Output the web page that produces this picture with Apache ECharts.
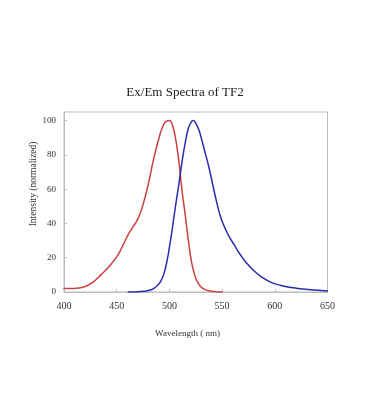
<!DOCTYPE html>
<html>
<head>
<meta charset="utf-8">
<script src="https://cdn.jsdelivr.net/npm/echarts@6/dist/echarts.min.js"></script>
<style>html,body{margin:0;padding:0;background:#fff;}#c{width:370px;height:420px;}</style>
</head>
<body>
<div id="c"></div>
<script>
const titleText = 'Ex/Em Spectra of TF2';
const xName = 'Wavelength ( nm)';
const yName = 'Intensity (normalized)';
const xTicks = [400, 450, 500, 550, 600, 650];
const yTicks = [0, 20, 40, 60, 80, 100];

const exWavelengths = [400, 410, 418, 425, 430, 435, 440, 445, 450, 455, 460, 465, 470, 475, 480, 485, 490, 494, 497, 500, 503, 506, 509, 512, 515, 518, 521, 524, 527, 532, 540, 550];
const exValues      = [2, 2.1, 2.8, 4.8, 7, 10, 13, 16.5, 20.5, 26, 32.5, 37.5, 42.5, 51, 63, 77.5, 89.5, 97, 99.5, 100, 97, 89, 76, 59, 45, 30, 17.5, 10, 5.5, 2, 0.5, 0];

const emWavelengths = [461, 470, 476, 481, 485, 489, 492, 495, 498, 500, 503, 506, 509, 512, 515, 518, 520.5, 522.5, 525, 528, 531, 534, 537, 541, 545, 549, 553, 557, 562, 567, 573, 580, 588, 597, 606, 616, 627, 638, 650];
const emValues      = [0, 0.1, 0.4, 1, 2, 4, 6.5, 11, 19, 26, 38, 51, 63, 76, 87, 95.5, 99, 100, 98.5, 94.5, 88, 81, 74, 63, 52, 43, 37, 32, 27, 22, 17, 12.5, 8.5, 5.5, 3.8, 2.6, 1.7, 1.1, 0.6];

const zip = (xs, ys) => xs.map((x, i) => [x, ys[i]]);
const serif = '"Liberation Serif", "DejaVu Serif", serif';
const gray = '#bdbdbd';

const chart = echarts.init(document.getElementById('c'), null, {renderer: 'canvas'});
chart.setOption({
  animation: false,
  backgroundColor: '#fff',
  grid: {left: 64, right: 42.5, top: 112, bottom: 128, show: true, borderColor: gray, borderWidth: 1, containLabel: false},
  xAxis: {
    type: 'value', min: 400, max: 650, interval: 50,
    axisLine: {lineStyle: {color: gray}},
    axisTick: {inside: true, length: 3, lineStyle: {color: gray}, customValues: xTicks},
    axisLabel: {color: '#333', fontFamily: serif, fontSize: 10, margin: 9, customValues: xTicks},
    splitLine: {show: false}
  },
  yAxis: {
    type: 'value', min: 0, max: 105,
    axisLine: {show: true, lineStyle: {color: gray}},
    axisTick: {show: true, inside: true, length: 3, lineStyle: {color: gray}, customValues: yTicks},
    axisLabel: {color: '#333', fontFamily: serif, fontSize: 9, margin: 8, customValues: yTicks},
    splitLine: {show: false}
  },
  graphic: [
    {type: 'text', x: 185, y: 93, style: {text: titleText, font: '13px ' + serif, fill: '#222', align: 'center', verticalAlign: 'middle'}},
    {type: 'text', x: 187.5, y: 334, style: {text: xName, font: '9px ' + serif, fill: '#333', align: 'center', verticalAlign: 'middle'}},
    {type: 'text', x: 33, y: 184, rotation: Math.PI / 2, style: {text: yName, font: '9.5px ' + serif, fill: '#333', align: 'center', verticalAlign: 'middle'}}
  ],
  series: [
    {name: 'Ex', type: 'line', data: zip(exWavelengths, exValues), showSymbol: false, smooth: 0.5, lineStyle: {color: '#cc4040', width: 1.5, cap: 'round', join: 'round'}, itemStyle: {color: '#cc4040'}},
    {name: 'Em', type: 'line', data: zip(emWavelengths, emValues), showSymbol: false, smooth: 0.5, lineStyle: {color: '#2b2bab', width: 1.5, cap: 'round', join: 'round'}, itemStyle: {color: '#2b2bab'}}
  ]
});
</script>
</body>
</html>
